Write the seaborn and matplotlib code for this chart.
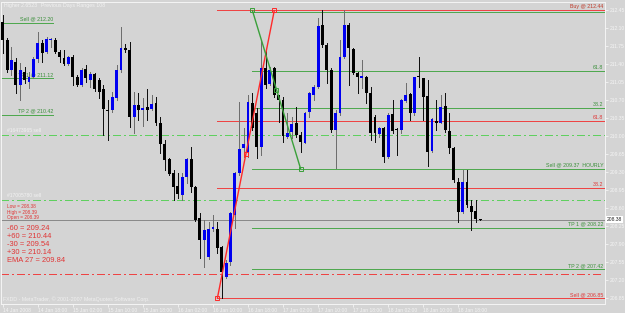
import matplotlib
matplotlib.use("Agg")
import matplotlib.pyplot as plt
import seaborn as sns
import pandas as pd
import numpy as np

# ---------------- data ----------------
opens = [212.22, 211.87, 211.28, 211.44, 210.99, 211.25, 211.05, 211.15, 211.50, 211.81,
         211.63, 211.87, 211.87, 211.63, 211.52, 211.40, 211.54, 211.15, 210.99, 211.30,
         211.09, 211.21, 211.09, 210.92, 210.50, 210.51, 210.74, 211.28, 211.71, 211.67,
         210.37, 210.61, 210.51, 210.57, 210.53, 210.64, 210.26, 209.85, 209.56, 209.28,
         209.03, 208.86, 209.21, 209.56, 209.01, 208.41, 207.98, 207.65, 208.20, 208.20,
         207.85, 207.27, 207.56, 208.47, 209.28, 209.77, 209.67, 210.64, 210.45, 209.79,
         211.32, 211.01, 211.32, 210.80, 210.70, 209.98, 210.08, 210.26, 210.02, 209.87,
         210.47, 210.80, 210.95, 212.16, 211.77, 211.28, 210.12, 210.45, 211.54, 212.16,
         211.69, 211.23, 211.13, 211.15, 210.84, 210.37, 210.04, 210.16, 209.60, 210.43,
         210.12, 210.12, 210.68, 210.82, 210.45, 211.15, 211.13, 210.78, 209.71, 210.29,
         210.26, 210.59, 210.10, 209.77, 209.11, 208.53, 209.11, 208.64, 208.55, 208.39]
highs = [212.35, 211.91, 211.73, 211.52, 211.42, 211.34, 211.25, 211.54, 212.02, 211.87,
         211.93, 211.91, 211.91, 211.67, 211.67, 211.56, 211.58, 211.19, 211.32, 211.38,
         211.25, 211.23, 211.13, 210.99, 210.70, 210.86, 211.38, 212.12, 211.79, 211.83,
         210.86, 210.84, 210.74, 210.92, 210.80, 210.76, 210.37, 209.93, 209.58, 209.34,
         209.28, 209.28, 209.58, 209.79, 209.03, 208.51, 208.37, 208.33, 208.47, 208.33,
         207.87, 207.60, 208.53, 209.30, 210.66, 210.16, 210.80, 210.84, 210.55, 211.87,
         211.67, 211.34, 211.34, 210.80, 210.76, 210.45, 210.37, 210.57, 210.08, 210.47,
         210.86, 210.99, 212.29, 212.44, 211.81, 211.32, 210.51, 211.87, 212.44, 212.20,
         211.71, 211.25, 211.48, 211.17, 210.95, 210.41, 210.18, 210.18, 210.45, 210.70,
         210.16, 210.72, 211.03, 210.84, 211.15, 211.54, 211.13, 211.09, 210.35, 210.70,
         210.80, 210.84, 210.45, 209.79, 209.19, 209.34, 209.34, 208.76, 208.76, 208.39]
lows = [211.62, 211.25, 211.19, 210.84, 210.70, 211.03, 210.94, 211.13, 211.44, 211.44,
        211.62, 211.73, 211.62, 211.44, 211.38, 211.38, 210.99, 210.97, 210.97, 211.05,
        210.95, 210.88, 210.74, 210.02, 209.93, 210.47, 210.70, 211.25, 211.63, 210.18,
        210.06, 210.31, 210.20, 210.31, 210.51, 210.22, 209.67, 209.34, 209.25, 208.76,
        208.80, 208.76, 209.09, 208.92, 208.35, 207.63, 207.46, 207.61, 208.16, 207.73,
        206.85, 207.25, 207.50, 208.22, 209.25, 209.60, 209.60, 210.12, 209.58, 209.63,
        210.94, 210.99, 210.76, 210.27, 209.89, 209.96, 209.96, 209.98, 209.69, 209.87,
        210.37, 210.70, 210.94, 211.73, 211.03, 210.08, 209.38, 210.41, 211.52, 210.99,
        211.21, 210.84, 210.94, 210.64, 209.93, 209.89, 209.98, 209.50, 209.58, 210.06,
        209.63, 210.06, 210.66, 210.31, 210.41, 210.95, 210.31, 209.42, 209.69, 210.12,
        210.26, 210.08, 209.67, 209.11, 208.33, 208.51, 208.62, 208.18, 208.33, 208.38]
closes = [211.87, 211.28, 211.48, 210.99, 211.28, 211.09, 211.15, 211.50, 211.81, 211.62,
          211.89, 211.88, 211.63, 211.54, 211.40, 211.54, 211.15, 210.99, 211.28, 211.13,
          211.21, 210.92, 210.86, 210.53, 210.49, 210.76, 211.28, 211.71, 211.67, 210.37,
          210.61, 210.51, 210.55, 210.51, 210.62, 210.26, 209.85, 209.54, 209.27, 209.01,
          208.88, 209.21, 209.56, 209.01, 208.37, 207.98, 208.18, 208.20, 208.23, 207.83,
          207.36, 207.54, 208.51, 209.28, 209.75, 209.85, 210.66, 210.16, 209.79, 211.32,
          210.99, 211.28, 210.80, 210.70, 210.00, 210.06, 210.24, 210.02, 209.89, 210.45,
          210.84, 210.95, 212.14, 211.77, 211.28, 210.12, 210.45, 211.54, 212.16, 211.71,
          211.23, 211.15, 211.17, 210.84, 210.06, 210.06, 210.16, 209.60, 210.41, 210.10,
          210.11, 210.70, 210.80, 210.45, 211.15, 211.14, 210.76, 209.69, 210.33, 210.26,
          210.57, 210.12, 209.77, 209.15, 208.53, 209.11, 208.66, 208.53, 208.39, 208.38]

time_ticks = [0, 8, 16, 24, 32, 40, 48, 56, 64, 72, 80, 88, 96, 104]
time_labels = ["14 Jan 2008", "14 Jan 18:00", "15 Jan 02:00", "15 Jan 10:00",
               "15 Jan 18:00", "16 Jan 02:00", "16 Jan 10:00", "16 Jan 18:00",
               "17 Jan 02:00", "17 Jan 10:00", "17 Jan 18:00", "18 Jan 02:00",
               "18 Jan 10:00", "18 Jan 18:00"]
price_ticks = [212.45, 212.10, 211.75, 211.40, 211.05, 210.70, 210.35, 210.00, 209.65,
               209.30, 208.95, 208.60, 208.25, 207.90, 207.55, 207.20, 206.85]

left_levels = [212.20, 211.12, 210.42]
left_labels = ["Sell @ 212.20", "TP 1 @ 211.12", "TP 2 @ 210.42"]
left_end_idx = 11.5

red_fib_idx = [49, 62]
red_fib_price = [206.85, 212.44]
red_levels = [212.44, 210.30, 208.99, 206.85]
red_labels = ["Buy @ 212.44", "61.8", "38.2", "Sell @ 206.85"]

green_fib_idx = [57, 68]
green_fib_price = [212.44, 209.37]
green_levels = [212.42, 211.27, 210.54, 209.37, 208.22, 207.42]
green_labels = ["", "61.8", "38.2", "Sell @ 209.37  HOURLY", "TP 1 @ 208.22", "TP 2 @ 207.42"]

order_levels = [210.03, 208.77]
order_labels = ["#16473965 sell", "#17005780 sell"]
red_dashdot_level = 207.33
bid_price = 208.38

info_small = ["Low = 208.38", "High = 208.39", "Open = 208.39"]
info_big = ["-60 = 209.24", "+60 = 210.44", "-30 = 209.54", "+30 = 210.14", "EMA 27 = 209.84"]

# ---------------- style ----------------
BG = "#d4d4d4"
sns.set_style("white", {"axes.facecolor": BG, "figure.facecolor": BG})
plt.rcParams["font.family"] = ["Liberation Sans", "DejaVu Sans"]

W, H = 625, 313
fig = plt.figure(figsize=(W / 100, H / 100), dpi=100)
fig.patch.set_facecolor(BG)
ax = fig.add_axes([1 / W, 9 / H, 604 / W, 302 / H])
ax.set_facecolor(BG)
XMIN, XMAX = -0.39, 137.5
YMIN, YMAX = 206.741, 212.605
ax.set_xlim(XMIN, XMAX)
ax.set_ylim(YMIN, YMAX)

GREEN = "#4fa84f"
GREEN_T = "#3a8f3a"
LGREEN = "#5fd05f"
RED = "#ee4444"
RED_T = "#e03535"
LW = 0.72

df = pd.DataFrame({"o": opens, "h": highs, "l": lows, "c": closes})
df["i"] = np.arange(len(df))
up = df["c"] >= df["o"]

# wicks
ax.vlines(df.loc[up, "i"], df.loc[up, "l"], df.loc[up, "h"], color="#6e6e6e", lw=LW,
          zorder=3, antialiased=False)
ax.vlines(df.loc[~up, "i"], df.loc[~up, "l"], df.loc[~up, "h"], color="#111111", lw=LW,
          zorder=3, antialiased=False)
# bodies
bot = np.minimum(df["o"], df["c"])
hgt = np.maximum((df["c"] - df["o"]).abs(), 0.02)
ax.bar(df["i"][up], hgt[up], bottom=bot[up], width=0.66, color="#0000f0", zorder=4, linewidth=0)
ax.bar(df["i"][~up], hgt[~up], bottom=bot[~up], width=0.66, color="#000000", zorder=4, linewidth=0)

xr = XMAX - 0.35


def hline(x0, x1, y, color, **kw):
    ax.plot([x0, x1], [y, y], color=color, lw=LW, antialiased=False, zorder=2, **kw)


# left short levels
for lv, lb in zip(left_levels, left_labels):
    hline(XMIN, left_end_idx, lv, GREEN)
    ax.text(left_end_idx, lv + 0.02, lb, color=GREEN_T, fontsize=3.8, ha="right", va="bottom", zorder=2)

# order dash-dot lines
for lv, lb in zip(order_levels, order_labels):
    hline(XMIN, XMAX, lv, LGREEN, ls=(0, (8, 3, 1.5, 3)))
    ax.text(1.0, lv + 0.03, lb, color="#f2f2f2", fontsize=3.6, ha="left", va="bottom", zorder=2)
hline(XMIN, 136.7, red_dashdot_level, RED, ls=(0, (8, 3, 1.5, 3)))

# bid line
hline(XMIN, XMAX, bid_price, "#8a8a8a")

# red fib
for lv, lb in zip(red_levels, red_labels):
    hline(red_fib_idx[0], XMAX, lv, RED)
    if lb:
        ax.text(xr, lv + 0.02, lb, color="#c03a2a" if "Buy" in lb else RED_T, fontsize=3.8,
                ha="right", va="bottom", zorder=2)
# green fib
for lv, lb in zip(green_levels, green_labels):
    hline(green_fib_idx[0], XMAX, lv, GREEN)
    if lb:
        ax.text(xr, lv + 0.02, lb, color=GREEN_T, fontsize=3.8, ha="right", va="bottom", zorder=2)

# fib trend lines
rf = pd.DataFrame({"i": red_fib_idx, "p": red_fib_price})
gf = pd.DataFrame({"i": green_fib_idx, "p": green_fib_price})
sns.lineplot(data=rf, x="i", y="p", color="#ff2a2a", lw=1.0, ax=ax, zorder=6)
sns.lineplot(data=gf, x="i", y="p", color="#3aa03a", lw=1.0, ax=ax, zorder=6)
for d, col in ((rf, "#ff2a2a"), (gf, "#3aa03a")):
    mx = [d["i"].iloc[0], d["i"].mean(), d["i"].iloc[1]]
    my = [d["p"].iloc[0], d["p"].mean(), d["p"].iloc[1]]
    ax.plot(mx, my, ls="none", marker="s", ms=2.6, mfc="none", mec=col, mew=0.7, zorder=7)

# axes styling
ax.set_xlabel("")
ax.set_ylabel("")
ax.yaxis.tick_right()
ax.set_yticks(price_ticks)
ax.set_yticklabels([f"{p:.2f}" for p in price_ticks])
ax.set_xticks(time_ticks)
ax.set_xticklabels(time_labels, ha="left")
ax.tick_params(axis="y", colors="#f4f4f4", labelsize=3.6, length=2, width=0.6, pad=1.5,
               right=True, left=False)
ax.tick_params(axis="x", colors="#f4f4f4", labelsize=3.6, length=2, width=0.6, pad=1.0,
               bottom=True)
for s in ax.spines.values():
    s.set_color("#f4f4f4")
    s.set_linewidth(0.7)

# bid box on axis
ax.text(1.003, (bid_price - YMIN) / (YMAX - YMIN), f"{bid_price:.2f}",
        transform=ax.transAxes, fontsize=3.6, color="#222222", ha="left", va="center",
        bbox=dict(boxstyle="square,pad=0.15", fc="white", ec="none"), zorder=10, clip_on=False)


def ft(x, y, s, **kw):
    fig.text(x / W, 1 - y / H, s, **kw)


ft(4, 5.5, "Higher 2.6523", fontsize=3.8, color="#f2f2f2", va="center")
ft(41, 5.5, "Previous Days Ranges 108", fontsize=3.8, color="#f2f2f2", va="center")
for k, s in enumerate(info_small):
    ft(7, 207 + 5.5 * k, s, fontsize=3.4, color=RED_T, va="center")
for k, s in enumerate(info_big):
    ft(7, 228.5 + 8 * k, s, fontsize=5.4, color=RED_T, va="center")
ft(3, 299, "FXDD - MetaTrader, \u00a9 2001-2007 MetaQuotes Software Corp.", fontsize=3.8,
   color="#f0f0f0", va="center")

fig.savefig("out.png", dpi=100, facecolor=BG)
